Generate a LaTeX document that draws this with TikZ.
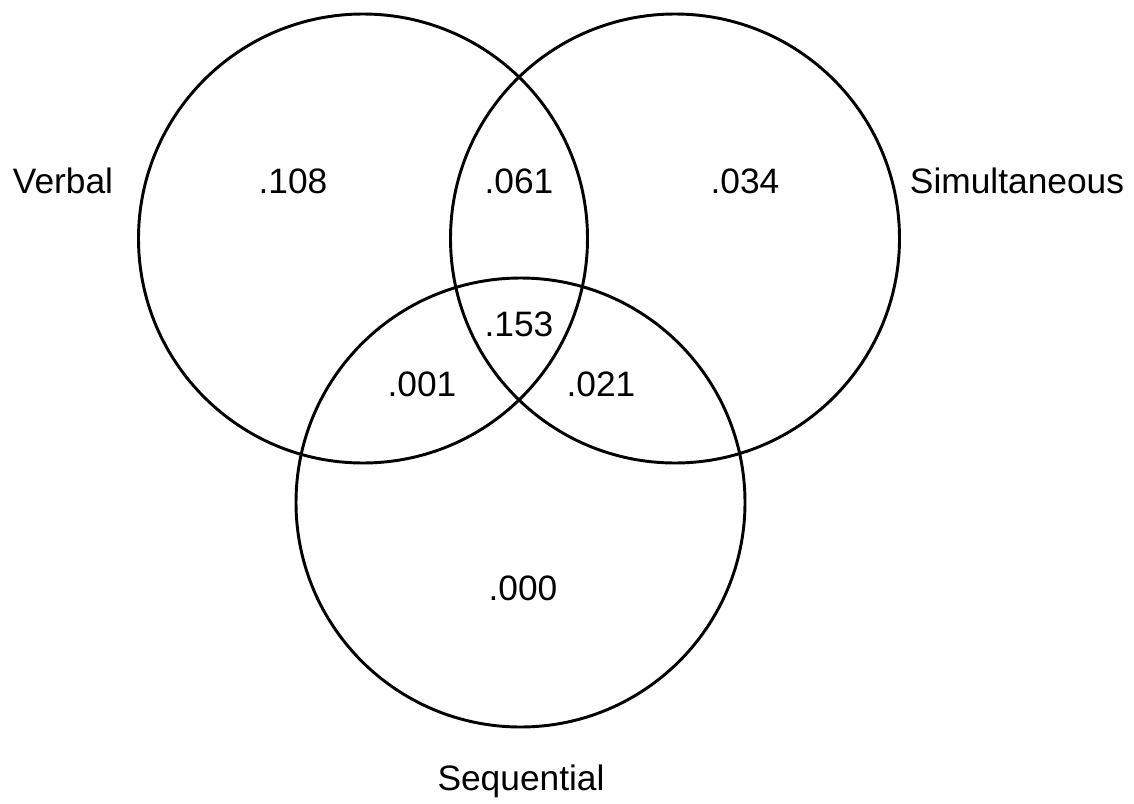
\documentclass[tikz,border=0pt]{standalone}
\usepackage{fontspec}
\setmainfont{Liberation Sans}
\begin{document}
\begin{tikzpicture}[x=0.75pt,y=-0.75pt,
  ring/.style={draw=black,line width=2.2pt},
  lab/.style={font=\fontsize{26.5}{30}\selectfont,inner sep=0pt,anchor=base}]
\useasboundingbox (0,0) rectangle (1134,803);
\fill[white] (0,0) rectangle (1134,803);
\coordinate (cV) at (363,238.5);
\coordinate (cS) at (675,238.5);
\coordinate (cQ) at (520.5,502.5);
\draw[ring] (cV) circle[radius=224.5];
\draw[ring] (cS) circle[radius=224.5];
\draw[ring] (cQ) circle[radius=224.5];
\node[lab] (verbal) at (63,193) {Verbal};
\node[lab] (simul) at (1017,193) {Simultaneous};
\node[lab] (seq) at (521,790) {Sequential};
\node[lab] (v) at (293,193) {.108};
\node[lab] (vs) at (519,193) {.061};
\node[lab] (s) at (745,193) {.034};
\node[lab] (vsq) at (519,336) {.153};
\node[lab] (vq) at (422,396) {.001};
\node[lab] (sq) at (601,396) {.021};
\node[lab] (q) at (523,600) {.000};
\end{tikzpicture}
\end{document}
